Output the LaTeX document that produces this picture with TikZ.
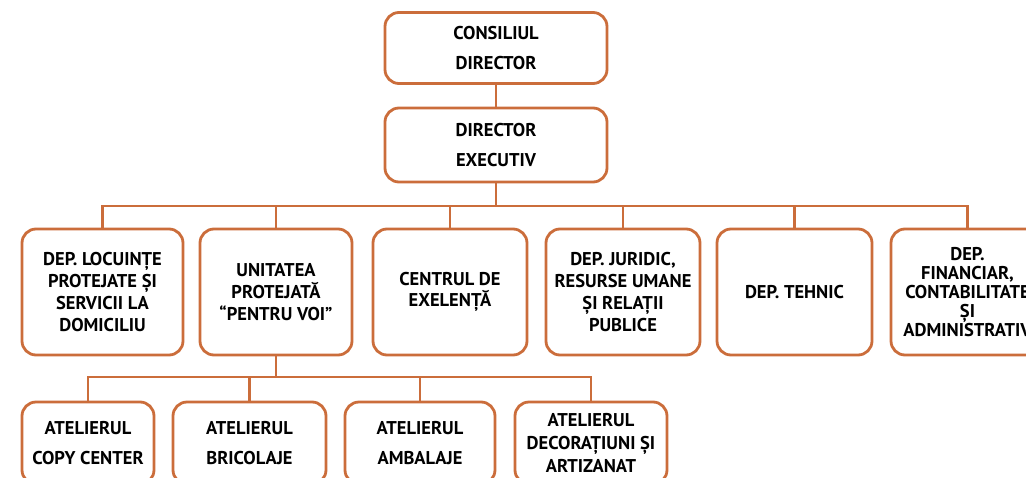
\documentclass[tikz,border=0pt]{standalone}
\usepackage{fontspec}
\setmainfont{PT Sans}
\usetikzlibrary{positioning}
\definecolor{orgline}{RGB}{203,109,59}

\begin{document}
\begin{tikzpicture}[
  x=1pt, y=-1pt,
  box/.style={draw=orgline, line width=2.8pt, rounded corners=14pt, align=center,
    inner sep=0pt, minimum height=126pt,
    font=\bfseries\fontsize{18.5}{21.7}\selectfont},
  link/.style={draw=orgline, line width=2.8pt}
]
  \clip (0,0) rectangle (1026,477);

  % conducere
  \node[box, minimum width=222pt, minimum height=71pt] (consiliu) at (496,48) {CONSILIUL\\[8pt]DIRECTOR};
  \node[box, minimum width=222pt, minimum height=74pt] (director) at (496,145) {DIRECTOR\\[8pt]EXECUTIV};

  % departamente
  \node[box, minimum width=161pt] (locuinte) at (102.5,292) {DEP. LOCUINȚE\\PROTEJATE ȘI\\SERVICII LA\\DOMICILIU};
  \node[box, minimum width=152pt] (unitate) at (276,292) {UNITATEA\\PROTEJATĂ\\“PENTRU VOI”};
  \node[box, minimum width=154pt] (centru) at (450,292) {CENTRUL DE\\EXELENȚĂ};
  \node[box, minimum width=154pt] (juridic) at (623,292) {DEP. JURIDIC,\\RESURSE UMANE\\ȘI RELAȚII\\PUBLICE};
  \node[box, minimum width=155pt] (tehnic) at (794.5,292) {DEP. TEHNIC};
  \node[box, minimum width=153pt, font=\bfseries\fontsize{18.5}{19}\selectfont] (financiar) at (967.5,292) {DEP.\\FINANCIAR,\\CONTABILITATE\\ȘI\\ADMINISTRATIV};

  % ateliere
  \node[box, minimum width=132pt, minimum height=82pt] (copy) at (88,443) {ATELIERUL\\[8pt]COPY CENTER};
  \node[box, minimum width=153pt, minimum height=82pt] (bricolaje) at (249.5,443) {ATELIERUL\\[8pt]BRICOLAJE};
  \node[box, minimum width=150pt, minimum height=82pt] (ambalaje) at (420,443) {ATELIERUL\\[8pt]AMBALAJE};
  \node[box, minimum width=152pt, minimum height=82pt, font=\bfseries\fontsize{18.5}{23}\selectfont] (decor) at (591,443) {ATELIERUL\\DECORAȚIUNI ȘI\\ARTIZANAT};

  \coordinate (bara) at (496,206);
  \coordinate (barb) at (276,377);

  \draw[link] (consiliu) -- (director);
  \draw[link] (director.south) -- (bara);
  \foreach \n in {locuinte,unitate,centru,juridic,tehnic,financiar}
    \draw[link] (\n.north) |- (bara);
  \draw[link] (unitate.south) -- (barb);
  \foreach \n in {copy,bricolaje,ambalaje,decor}
    \draw[link] (\n.north) |- (barb);
\end{tikzpicture}
\end{document}
